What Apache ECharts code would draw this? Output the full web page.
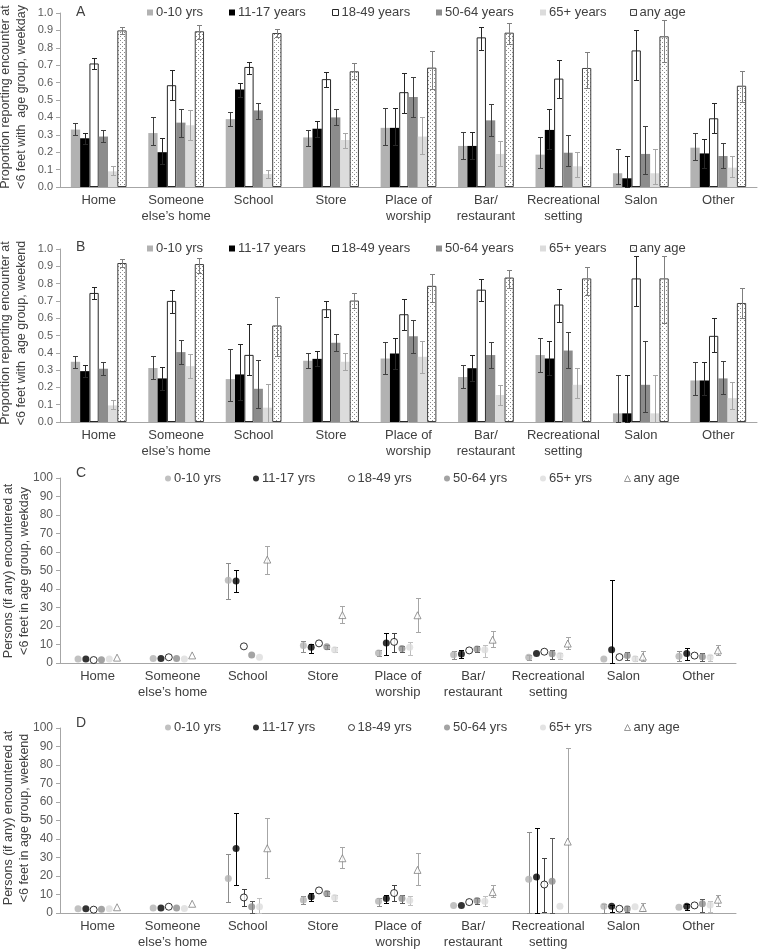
<!DOCTYPE html>
<html><head><meta charset="utf-8">
<script src="https://cdn.jsdelivr.net/npm/echarts@6/dist/echarts.min.js"></script>
<style>html,body{margin:0;padding:0;background:#fff}#c{width:759px;height:951px}</style>
</head><body><div id="c"></div>
<script>
// ---------- data ----------
const categories = ['Home','Someone\nelse\u2019s home','School','Store','Place of\nworship','Bar/\nrestaurant','Recreational\nsetting','Salon','Other'];
const barGroups = ['0-10 yrs','11-17 years','18-49 years','50-64 years','65+ years','any age'];
const dotGroups = ['0-10 yrs','11-17 yrs','18-49 yrs','50-64 yrs','65+ yrs','any age'];

// Panel A: proportion, weekday (rows: age groups, cols: categories)
const shareWeekday = [
  [0.33,0.31,0.39,0.285,0.34,0.236,0.186,0.079,0.226],
  [0.28,0.20,0.56,0.335,0.34,0.236,0.328,0.05,0.193],
  [0.71,0.585,0.69,0.62,0.545,0.86,0.623,0.785,0.395],
  [0.29,0.37,0.44,0.40,0.517,0.383,0.197,0.19,0.178],
  [0.09,0.355,0.075,0.27,0.29,0.19,0.119,0.079,0.111],
  [0.90,0.895,0.885,0.665,0.686,0.887,0.684,0.866,0.582]
];
const shareWeekdayLow = [
  [0.30,0.24,0.35,0.235,0.24,0.161,0.107,0.02,0.157],
  [0.25,0.13,0.52,0.29,0.24,0.161,0.22,0.0,0.11],
  [0.68,0.50,0.65,0.575,0.427,0.79,0.51,0.617,0.31],
  [0.26,0.29,0.39,0.355,0.40,0.293,0.12,0.075,0.109],
  [0.07,0.27,0.05,0.225,0.19,0.12,0.06,0.02,0.057],
  [0.88,0.85,0.86,0.62,0.563,0.82,0.57,0.718,0.49]
];
const shareWeekdayHigh = [
  [0.37,0.40,0.43,0.33,0.455,0.318,0.29,0.22,0.31],
  [0.31,0.28,0.60,0.38,0.455,0.318,0.446,0.18,0.276],
  [0.74,0.67,0.72,0.66,0.657,0.918,0.73,0.90,0.485],
  [0.33,0.45,0.48,0.45,0.63,0.477,0.30,0.35,0.255],
  [0.12,0.44,0.10,0.31,0.404,0.266,0.20,0.22,0.18],
  [0.92,0.93,0.91,0.71,0.784,0.94,0.778,0.958,0.668]
];

// Panel B: proportion, weekend
const shareWeekend = [
  [0.348,0.312,0.248,0.354,0.367,0.26,0.387,0.05,0.24],
  [0.294,0.252,0.275,0.365,0.396,0.311,0.367,0.05,0.24],
  [0.746,0.70,0.388,0.652,0.623,0.765,0.679,0.83,0.498],
  [0.308,0.404,0.192,0.458,0.496,0.387,0.413,0.215,0.252],
  [0.096,0.323,0.083,0.348,0.377,0.156,0.215,0.05,0.138],
  [0.919,0.913,0.558,0.702,0.787,0.835,0.83,0.83,0.688]
];
const shareWeekendLow = [
  [0.31,0.248,0.12,0.31,0.279,0.194,0.29,0.0,0.156],
  [0.26,0.183,0.127,0.321,0.306,0.237,0.271,0.0,0.156],
  [0.71,0.629,0.27,0.608,0.53,0.698,0.58,0.67,0.406],
  [0.273,0.335,0.08,0.41,0.40,0.313,0.315,0.06,0.16],
  [0.075,0.256,0.0,0.302,0.286,0.098,0.138,0.0,0.075],
  [0.896,0.862,0.38,0.658,0.694,0.775,0.735,0.575,0.60]
];
const shareWeekendHigh = [
  [0.383,0.383,0.42,0.40,0.463,0.329,0.488,0.27,0.344],
  [0.33,0.317,0.45,0.413,0.487,0.385,0.469,0.27,0.344],
  [0.78,0.763,0.567,0.698,0.71,0.827,0.767,0.96,0.604],
  [0.344,0.473,0.36,0.506,0.59,0.463,0.519,0.47,0.354],
  [0.125,0.394,0.22,0.396,0.471,0.215,0.31,0.27,0.23],
  [0.94,0.948,0.723,0.746,0.856,0.88,0.896,0.96,0.777]
];

// Panel C: persons encountered, weekday
const personsWeekday = [
  [2.2,2.5,44.7,9.4,5.4,4.5,3.1,2.2,3.6],
  [2.2,2.5,44.3,8.5,10.8,4.9,5.2,7.2,5.2],
  [1.6,3.1,9.0,10.6,11.4,6.8,6.1,3.2,4.0],
  [1.8,2.5,4.3,8.8,7.9,7.6,5.0,4.0,3.4],
  [2.2,2.2,3.1,7.2,8.5,7.2,4.0,2.3,3.1],
  [2.9,4.1,55.9,25.9,25.8,12.6,10.5,3.4,6.8]
];
const personsWeekdayLow = [
  [null,null,34.4,5.9,3.6,2.3,1.8,null,1.0],
  [null,null,38.2,5.6,4.1,2.7,null,0,1.8],
  [null,null,null,null,5.8,null,null,null,null],
  [null,null,null,7.6,5.9,6.0,2.0,1.5,1.0],
  [null,null,null,5.9,4.1,3.4,2.2,0.9,1.1],
  [null,null,48.1,21.4,16.6,8.5,7.4,1.0,4.1]
];
const personsWeekdayHigh = [
  [null,null,54.0,11.7,7.2,6.3,4.5,null,6.3],
  [null,null,50.3,10.3,16.0,6.8,null,44.9,7.9],
  [null,null,null,null,16.0,null,null,null,null],
  [null,null,null,10.0,9.4,9.2,7.2,6.0,5.5],
  [null,null,null,8.5,11.4,9.7,5.2,3.6,4.5],
  [null,null,63.4,30.8,35.1,17.3,13.9,6.3,9.7]
];

// Panel D: persons encountered, weekend
const personsWeekend = [
  [2.3,2.7,18.7,7.0,6.3,4.1,18.3,3.6,3.1],
  [2.3,2.7,34.8,8.8,7.9,4.1,19.4,3.6,3.6],
  [1.8,3.4,8.4,12.2,10.8,5.9,15.4,2.3,4.1],
  [2.0,2.7,3.4,10.6,7.9,6.8,17.1,2.3,5.0],
  [2.3,2.5,3.4,8.4,6.8,6.3,3.6,3.4,4.3],
  [3.1,5.0,35.0,29.6,23.3,11.3,38.6,2.7,7.2]
];
const personsWeekendLow = [
  [null,null,5.7,4.8,4.0,null,0,0,null],
  [null,null,15.1,6.6,5.4,null,0,0.5,1.5],
  [null,null,3.6,null,6.3,null,0.5,null,null],
  [null,null,0,9.0,5.2,5.0,0,0.5,0.5],
  [null,null,0,6.6,4.1,3.6,null,null,0.5],
  [null,null,18.9,24.1,15.1,8.6,0,0.9,4.0]
];
const personsWeekendHigh = [
  [null,null,31.8,9.0,8.1,null,43.6,4.8,null],
  [null,null,53.9,10.8,9.9,null,45.8,4.5,5.0],
  [null,null,12.9,null,14.9,null,29.6,null,null],
  [null,null,6.5,12.0,9.5,8.0,40.4,3.8,7.7],
  [null,null,8.1,10.0,9.0,9.0,null,null,6.6],
  [null,null,51.2,35.5,32.3,14.9,89.2,5.2,9.9]
];

// ---------- styles ----------
const FONT = '"Liberation Sans", Arial, sans-serif';
const pat = document.createElement('canvas');
pat.width = 4; pat.height = 4;
(function(){const c = pat.getContext('2d'); c.fillStyle='#fff'; c.fillRect(0,0,4,4);
  c.fillStyle='#8a8a8a'; c.fillRect(0,0,1,1); c.fillRect(2,2,1,1);})();
const patternFill = {image: pat, repeat: 'repeat'};

const barStyles = [
  {color:'#b2b2b2'},
  {color:'#000000'},
  {color:'#ffffff', borderColor:'#262626', borderWidth:1},
  {color:'#8c8c8c'},
  {color:'#dcdcdc'},
  {color:patternFill, borderColor:'#404040', borderWidth:1}
];
const barErrColors = ['#404040','#262626','#262626','#404040','#a6a6a6','#7f7f7f'];
const dotStyles = [
  {color:'#b2b2b2'},
  {color:'#000000'},
  {color:'#ffffff', borderColor:'#000000', borderWidth:1},
  {color:'#8c8c8c'},
  {color:'#dcdcdc'},
  {color:'#ffffff', borderColor:'#7f7f7f', borderWidth:1}
];
const dotErrColors = ['#8c8c8c','#000000','#404040','#595959','#bfbfbf','#a6a6a6'];
const DOT_STEP = 7.8;
const BAR_GAP = 0.28;

const panels = [
  {key:'A', kind:'bar', vals:shareWeekday, lo:shareWeekdayLow, hi:shareWeekdayHigh, max:1, interval:0.1,
   grid:{left:60,right:2,top:13,height:174}, legendY:14, legendX:[150,232,335,439,543,633], letterY:13,
   title:'Proportion reporting encounter at\n<6 feet with  age group, weekday', titleX:14, titleY:97},
  {key:'B', kind:'bar', vals:shareWeekend, lo:shareWeekendLow, hi:shareWeekendHigh, max:1, interval:0.1,
   grid:{left:60,right:2,top:249,height:173}, legendY:250, legendX:[150,232,335,439,543,633], letterY:248,
   title:'Proportion reporting encounter at\n<6 feet with  age group, weekend', titleX:14, titleY:333},
  {key:'C', kind:'dot', vals:personsWeekday, lo:personsWeekdayLow, hi:personsWeekdayHigh, max:100, interval:10,
   grid:{left:60,right:23,top:478,height:185}, legendY:480, legendX:[168,256,351,447,543,627], letterY:474,
   title:'Persons (if any) encountered at\n<6 feet in age group, weekday', titleX:17, titleY:571},
  {key:'D', kind:'dot', vals:personsWeekend, lo:personsWeekendLow, hi:personsWeekendHigh, max:100, interval:10,
   grid:{left:60,right:23,top:728,height:185}, legendY:729, legendX:[168,256,351,447,543,627], letterY:724,
   title:'Persons (if any) encountered at\n<6 feet in age group, weekend', titleX:17, titleY:818}
];

function makeErrRender(kind, colors){
  return function(params, api){
    const c = api.value(0), lo = api.value(1), hi = api.value(2), g = api.value(3);
    const pLo = api.coord([c, lo]), pHi = api.coord([c, hi]);
    const bw = api.size([1,0])[0];
    let x;
    if (kind === 'bar') { const gw = bw*(1-BAR_GAP); const w = gw/6; x = pLo[0] - gw/2 + (g+0.5)*w; }
    else { x = pLo[0] + (g-2.5)*DOT_STEP; }
    x = Math.round(x) + 0.5;
    const y1 = Math.round(pHi[1]) + 0.5, y2 = Math.round(pLo[1]) + 0.5;
    const cap = 2.5;
    const st = {stroke: colors[g], lineWidth: 1, fill: null};
    return {type:'group', children:[
      {type:'line', shape:{x1:x,y1:y1,x2:x,y2:y2}, style:st},
      {type:'line', shape:{x1:x-cap,y1:y1,x2:x+cap,y2:y1}, style:st},
      {type:'line', shape:{x1:x-cap,y1:y2,x2:x+cap,y2:y2}, style:st}
    ]};
  };
}

const grids = [], xAxes = [], yAxes = [], series = [], legends = [], graphics = [];
panels.forEach((p, pi) => {
  grids.push(Object.assign({outerBoundsMode:'none', containLabel:false}, p.grid));
  xAxes.push({type:'category', gridIndex:pi, data:categories,
    axisLine:{show:true, lineStyle:{color:'#a6a6a6', width:1}}, axisTick:{show:false},
    axisLabel:{interval:0, margin:5, fontSize:13, lineHeight:16, color:'#404040', fontFamily:FONT}});
  yAxes.push({type:'value', gridIndex:pi, min:0, max:p.max, interval:p.interval,
    splitLine:{show:false},
    axisLine:{show:true, lineStyle:{color:'#a6a6a6', width:1}},
    axisTick:{show:true, length:4, lineStyle:{color:'#a6a6a6'}},
    axisLabel:{fontSize: p.kind==='bar' ? 11 : 12, color:'#595959', margin:7, fontFamily:FONT,
      formatter: p.kind==='bar' ? (v => v.toFixed(1)) : (v => String(v))}});
  const groups = p.kind==='bar' ? barGroups : dotGroups;
  const errData = [];
  for (let g = 0; g < 6; g++) {
    const name = p.key + '|' + groups[g];
    if (p.kind === 'bar') {
      series.push({type:'bar', name, xAxisIndex:pi, yAxisIndex:pi, data:p.vals[g],
        barGap:'0%', barCategoryGap:(BAR_GAP*100)+'%', itemStyle:barStyles[g], silent:true, z:2});
    } else {
      series.push({type:'scatter', name, xAxisIndex:pi, yAxisIndex:pi, data:p.vals[g],
        symbol: g===5 ? 'triangle' : 'circle', symbolSize: 7,
        symbolOffset:[(g-2.5)*DOT_STEP, 0], itemStyle:dotStyles[g], silent:true, z:3});
    }
    for (let c = 0; c < categories.length; c++) {
      if (p.lo[g][c] != null && p.hi[g][c] != null) errData.push([c, p.lo[g][c], p.hi[g][c], g]);
    }
    const st = p.kind==='bar' ? barStyles[g] : dotStyles[g];
    legends.push({data:[{name, icon: p.kind==='bar' ? 'rect' : (g===5 ? 'triangle' : 'circle'),
        itemStyle: Object.assign({borderWidth: st.borderWidth ? 1 : 0}, st)}],
      left: p.legendX[g]-3, top: p.legendY-8, itemWidth: 6, itemHeight: 6,
      padding:0, itemGap:0, selectedMode:false,
      formatter: n => n.split('|')[1],
      textStyle:{fontSize:13, color:'#404040', fontFamily:FONT, padding:[0,0,0,-2]}});
  }
  series.push({type:'custom', xAxisIndex:pi, yAxisIndex:pi, data:errData,
    encode:{x:0, y:[1,2]}, renderItem: makeErrRender(p.kind, p.kind==='bar'?barErrColors:dotErrColors),
    silent:true, z: p.kind==='bar' ? 5 : 2});
  graphics.push({type:'text', left: 76, top: p.letterY-8,
    style:{text:p.key, fontSize:14, fill:'#404040', fontFamily:FONT}});
  graphics.push({type:'text', x: p.titleX, y: p.titleY, rotation: Math.PI/2,
    style:{text:p.title, fontSize:12.5, lineHeight:16, fill:'#404040', fontFamily:FONT,
      align:'center', verticalAlign:'middle'}});
});

const chart = echarts.init(document.getElementById('c'), null, {renderer:'canvas'});
chart.setOption({
  animation:false,
  backgroundColor:'#ffffff',
  grid:grids, xAxis:xAxes, yAxis:yAxes, series, legend:legends, graphic:graphics
});
</script></body></html>
